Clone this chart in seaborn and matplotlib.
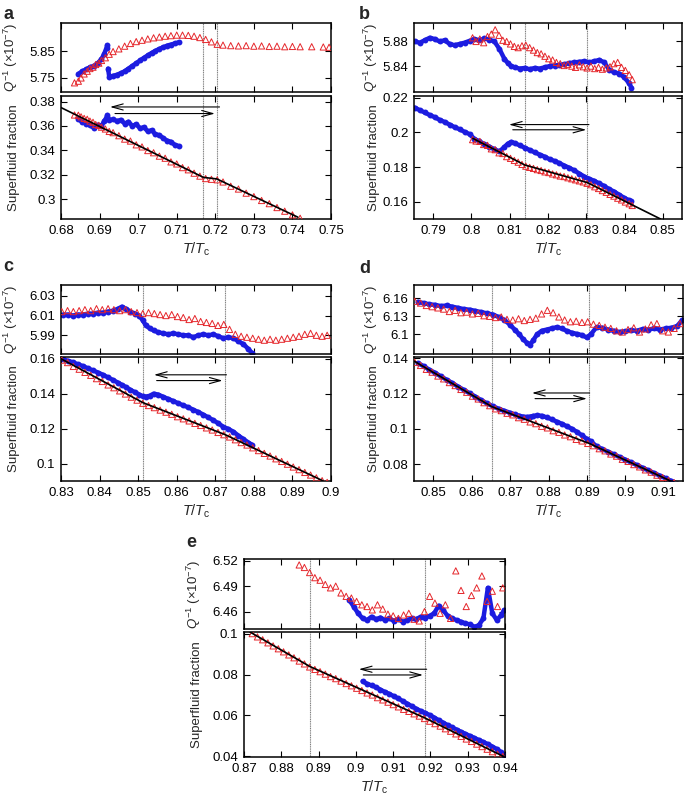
import numpy as np
import matplotlib
matplotlib.use("Agg")
import matplotlib.pyplot as plt
from matplotlib.ticker import FuncFormatter
import seaborn as sns

nan = np.nan

# ---------------- panel a ----------------
a_red_t = [0.6835, 0.6845, 0.6852, 0.686, 0.6868, 0.6875, 0.6883, 0.689, 0.6898, 0.6905,
           0.6915, 0.6925, 0.6935, 0.695, 0.6965, 0.698, 0.6995, 0.701, 0.7025, 0.704,
           0.7055, 0.707, 0.7085, 0.71, 0.7115, 0.713, 0.7145, 0.716, 0.7175, 0.719,
           0.7205, 0.722, 0.724, 0.726, 0.728, 0.730, 0.732, 0.734, 0.736, 0.738,
           0.740, 0.742, 0.745, 0.748, 0.7495]
a_red_q = [5.732, 5.738, 5.75, 5.765, 5.775, 5.785, 5.79, 5.80, 5.805, 5.815,
           5.825, 5.838, 5.848, 5.858, 5.868, 5.878, 5.885, 5.89, 5.895, 5.899,
           5.902, 5.905, 5.907, 5.909, 5.909, 5.908, 5.905, 5.900, 5.893, 5.884,
           5.875, 5.872, 5.870, 5.869, 5.870, 5.868, 5.869, 5.867, 5.868, 5.866,
           5.867, 5.866, 5.866, 5.865, 5.864]
a_red_sf = [0.3690, 0.3688, 0.3675, 0.3662, 0.3655, 0.3640, 0.3630, 0.3612, 0.3605, 0.3590,
            0.3575, 0.3555, 0.3545, 0.3520, 0.3492, 0.3476, 0.3445, 0.3428, 0.3398, 0.3380,
            0.3352, 0.3335, 0.3305, 0.3288, 0.3258, 0.3240, 0.3212, 0.3188, 0.3168, 0.3162,
            0.3158, 0.3140, 0.3105, 0.3082, 0.3048, 0.3020, 0.2988, 0.2962, 0.2930, 0.2900,
            0.2870, 0.2842, 0.2797, 0.2752, 0.2729]
a_blue_t = [0.6845, 0.6855, 0.6865, 0.6875, 0.6885, 0.6895, 0.6905, 0.6912, 0.6918, 0.692,
            nan, 0.6922, 0.6925, 0.6935, 0.6945, 0.6955, 0.6965, 0.6975, 0.6985, 0.6995,
            0.7005, 0.7015, 0.7025, 0.7035, 0.7045, 0.7055, 0.7065, 0.7075, 0.7085, 0.7095, 0.7105]
a_blue_q = [5.765, 5.775, 5.782, 5.79, 5.795, 5.805, 5.82, 5.84, 5.862, 5.872,
            nan, 5.785, 5.755, 5.758, 5.762, 5.768, 5.775, 5.785, 5.795, 5.805,
            5.815, 5.825, 5.834, 5.843, 5.851, 5.858, 5.864, 5.87, 5.874, 5.878, 5.882]
a_blue_sf = [0.3660, 0.3630, 0.3620, 0.3605, 0.3585, 0.3610, 0.3600, 0.3640, 0.3670, 0.3690,
             nan, 0.3660, 0.3645, 0.3655, 0.3640, 0.3650, 0.3620, 0.3635, 0.3600, 0.3615,
             0.3580, 0.3590, 0.3555, 0.3565, 0.3530, 0.3525, 0.3500, 0.3480, 0.3470, 0.3445, 0.3435]
a_fit_t = [0.68, 0.7169, 0.7204, 0.7414]
a_fit_sf = [0.3751, 0.3178, 0.3165, 0.2851]

# ---------------- panel b ----------------
b_red_t = [0.8003, 0.8012, 0.8022, 0.8032, 0.8042, 0.8052, 0.8062, 0.8072, 0.8082, 0.8092,
           0.8102, 0.8112, 0.8122, 0.8132, 0.8142, 0.8152, 0.8162, 0.8172, 0.8182, 0.8192,
           0.8202, 0.8212, 0.8222, 0.8232, 0.8242, 0.8252, 0.8262, 0.8272, 0.8282, 0.8292,
           0.8302, 0.8312, 0.8322, 0.8332, 0.8342, 0.8352, 0.8362, 0.8372, 0.8382, 0.8392,
           0.8402, 0.8412, 0.8420]
b_red_q = [5.886, 5.880, 5.884, 5.878, 5.888, 5.892, 5.899, 5.890, 5.882, 5.880,
           5.876, 5.872, 5.870, 5.873, 5.874, 5.870, 5.866, 5.862, 5.860, 5.856,
           5.852, 5.850, 5.846, 5.844, 5.841, 5.843, 5.840, 5.838, 5.842, 5.839,
           5.837, 5.840, 5.836, 5.838, 5.835, 5.837, 5.839, 5.844, 5.846, 5.838,
           5.833, 5.826, 5.818]
b_red_sf = [0.1958, 0.1950, 0.1948, 0.1930, 0.1925, 0.1905, 0.1900, 0.1882, 0.1878, 0.1860,
            0.1850, 0.1838, 0.1828, 0.1815, 0.1805, 0.1798, 0.1792, 0.1785, 0.1780, 0.1772,
            0.1768, 0.1760, 0.1755, 0.1748, 0.1745, 0.1738, 0.1732, 0.1726, 0.1720, 0.1714,
            0.1706, 0.1698, 0.1686, 0.1676, 0.1664, 0.1654, 0.1642, 0.1632, 0.1620, 0.1610,
            0.1598, 0.1588, 0.1578]
b_blue_t = [0.7852, 0.7865, 0.7878, 0.7891, 0.7904, 0.7917, 0.7930, 0.7943, 0.7956, 0.7969,
            0.7982, 0.7995, 0.8008, 0.8021, 0.8034, 0.8047, 0.8060, 0.8073, 0.8086, 0.8095,
            0.8104, 0.8113, 0.8126, 0.8139, 0.8152, 0.8165, 0.8178, 0.8191, 0.8204, 0.8217,
            0.8230, 0.8243, 0.8256, 0.8269, 0.8282, 0.8295, 0.8308, 0.8321, 0.8334, 0.8347,
            0.8360, 0.8373, 0.8386, 0.8399, 0.8412, 0.8418]
b_blue_q = [5.880, 5.878, 5.882, 5.886, 5.884, 5.880, 5.882, 5.876, 5.874, 5.876,
            5.878, 5.881, 5.884, 5.882, 5.885, 5.883, 5.880, 5.868, 5.852, 5.845,
            5.840, 5.838, 5.836, 5.837, 5.835, 5.837, 5.836, 5.838, 5.840, 5.841,
            5.842, 5.843, 5.845, 5.846, 5.847, 5.848, 5.846, 5.848, 5.850, 5.846,
            5.834, 5.830, 5.828, 5.822, 5.812, 5.805]
b_blue_sf = [0.2143, 0.2128, 0.2115, 0.2100, 0.2088, 0.2072, 0.2060, 0.2045, 0.2030, 0.2018,
             0.2003, 0.1990, 0.1962, 0.1948, 0.1932, 0.1918, 0.1902, 0.1890, 0.1915, 0.1935,
             0.1945, 0.1938, 0.1925, 0.1912, 0.1898, 0.1885, 0.1872, 0.1860, 0.1845, 0.1835,
             0.1822, 0.1808, 0.1795, 0.1780, 0.1762, 0.1745, 0.1732, 0.1720, 0.1705, 0.1690,
             0.1672, 0.1658, 0.1640, 0.1622, 0.1608, 0.1602]
b_fit_t = [0.8004, 0.8139, 0.8303, 0.8494]
b_fit_sf = [0.1965, 0.1812, 0.1710, 0.1500]

# ---------------- panel c ----------------
c_red_t = [0.8302, 0.8317, 0.8332, 0.8347, 0.8362, 0.8377, 0.8392, 0.8407, 0.8422, 0.8437,
           0.8452, 0.8467, 0.8482, 0.8497, 0.8512, 0.8527, 0.8542, 0.8557, 0.8572, 0.8587,
           0.8602, 0.8617, 0.8632, 0.8647, 0.8662, 0.8677, 0.8692, 0.8707, 0.8722, 0.8737,
           0.8752, 0.8767, 0.8782, 0.8797, 0.8812, 0.8827, 0.8842, 0.8857, 0.8872, 0.8887,
           0.8902, 0.8917, 0.8932, 0.8947, 0.8962, 0.8977, 0.8990]
c_red_q = [6.014, 6.015, 6.014, 6.015, 6.016, 6.015, 6.017, 6.016, 6.017, 6.016,
           6.015, 6.016, 6.014, 6.013, 6.012, 6.013, 6.012, 6.011, 6.010, 6.011,
           6.009, 6.008, 6.006, 6.007, 6.004, 6.003, 6.002, 6.000, 6.001, 5.996,
           5.991, 5.989, 5.988, 5.987, 5.986, 5.985, 5.986, 5.985, 5.986, 5.987,
           5.988, 5.989, 5.991, 5.992, 5.990, 5.989, 5.990]
c_red_sf = [0.1592, 0.1578, 0.1556, 0.1540, 0.1522, 0.1505, 0.1486, 0.1470, 0.1450, 0.1434,
            0.1416, 0.1398, 0.1380, 0.1363, 0.1345, 0.1332, 0.1320, 0.1306, 0.1294, 0.1282,
            0.1268, 0.1256, 0.1244, 0.1230, 0.1218, 0.1204, 0.1192, 0.1178, 0.1165, 0.1152,
            0.1136, 0.1120, 0.1106, 0.1090, 0.1074, 0.1058, 0.1043, 0.1027, 0.1012, 0.0996,
            0.0980, 0.0965, 0.0949, 0.0934, 0.0918, 0.0902, 0.0892]
c_blue_t = [0.8305, 0.8318, 0.8331, 0.8344, 0.8357, 0.8370, 0.8383, 0.8396, 0.8409, 0.8422,
            0.8435, 0.8448, 0.8458, 0.8468, 0.8480, 0.8492, 0.8503, 0.8512, 0.8520, 0.8530,
            0.8540, 0.8552, 0.8565, 0.8578, 0.8591, 0.8604, 0.8617, 0.8630, 0.8643, 0.8656,
            0.8669, 0.8682, 0.8695, 0.8708, 0.8721, 0.8734, 0.8747, 0.8760, 0.8773, 0.8786, 0.8795]
c_blue_q = [6.011, 6.011, 6.010, 6.011, 6.011, 6.012, 6.012, 6.013, 6.013, 6.014,
            6.015, 6.017, 6.019, 6.017, 6.014, 6.012, 6.010, 6.005, 6.000, 5.997,
            5.995, 5.993, 5.992, 5.991, 5.992, 5.991, 5.990, 5.990, 5.988, 5.990,
            5.991, 5.990, 5.991, 5.989, 5.987, 5.988, 5.987, 5.984, 5.981, 5.976, 5.972]
c_blue_sf = [0.1597, 0.1588, 0.1580, 0.1568, 0.1558, 0.1545, 0.1533, 0.1521, 0.1508, 0.1493,
             0.1478, 0.1463, 0.1450, 0.1438, 0.1422, 0.1408, 0.1395, 0.1385, 0.1383, 0.1388,
             0.1400, 0.1395, 0.1382, 0.1370, 0.1358, 0.1345, 0.1333, 0.1322, 0.1308, 0.1295,
             0.1280, 0.1264, 0.1248, 0.1230, 0.1210, 0.1198, 0.1182, 0.1160, 0.1140, 0.1120, 0.1108]
c_fit_t = [0.83, 0.8513, 0.8726, 0.898]
c_fit_sf = [0.160, 0.1348, 0.1165, 0.090]

# ---------------- panel d ----------------
d_red_t = [0.8452, 0.8467, 0.8482, 0.8497, 0.8512, 0.8527, 0.8542, 0.8557, 0.8572, 0.8587,
           0.8602, 0.8617, 0.8632, 0.8647, 0.8662, 0.8677, 0.8692, 0.8707, 0.8722, 0.8737,
           0.8752, 0.8767, 0.8782, 0.8797, 0.8812, 0.8827, 0.8842, 0.8857, 0.8872, 0.8887,
           0.8902, 0.8917, 0.8932, 0.8947, 0.8962, 0.8977, 0.8992, 0.9007, 0.9022, 0.9037,
           0.9052, 0.9067, 0.9082, 0.9097, 0.9112, 0.9127, 0.9142]
d_red_q = [6.155, 6.152, 6.148, 6.146, 6.144, 6.142, 6.138, 6.140, 6.136, 6.137,
           6.134, 6.135, 6.131, 6.130, 6.128, 6.129, 6.125, 6.124, 6.126, 6.123,
           6.125, 6.127, 6.134, 6.140, 6.136, 6.129, 6.124, 6.121, 6.122, 6.120,
           6.121, 6.117, 6.115, 6.112, 6.110, 6.106, 6.104, 6.108, 6.111, 6.104,
           6.109, 6.116, 6.118, 6.106, 6.104, 6.110, 6.118]
d_red_sf = [0.1378, 0.1360, 0.1338, 0.1322, 0.1300, 0.1284, 0.1263, 0.1246, 0.1224, 0.1208,
            0.1186, 0.1170, 0.1149, 0.1132, 0.1114, 0.1104, 0.1089, 0.1080, 0.1064, 0.1055,
            0.1040, 0.1030, 0.1015, 0.1006, 0.0990, 0.0981, 0.0966, 0.0956, 0.0941, 0.0932,
            0.0918, 0.0905, 0.0888, 0.0876, 0.0858, 0.0846, 0.0828, 0.0816, 0.0798, 0.0785,
            0.0768, 0.0755, 0.0738, 0.0725, 0.0708, 0.0696, 0.0680]
d_blue_t = [0.8460, 0.8475, 0.8490, 0.8505, 0.8520, 0.8535, 0.8550, 0.8565, 0.8580, 0.8595,
            0.8610, 0.8625, 0.8640, 0.8655, 0.8670, 0.8685, 0.8700, 0.8712, 0.8724, 0.8734,
            0.8744, 0.8752, 0.8760, 0.8770, 0.8782, 0.8795, 0.8808, 0.8821, 0.8834, 0.8847,
            0.8860, 0.8873, 0.8886, 0.8899, 0.8910, 0.8925, 0.8940, 0.8955, 0.8970, 0.8985,
            0.9000, 0.9015, 0.9030, 0.9045, 0.9060, 0.9075, 0.9090, 0.9105, 0.9120, 0.9135, 0.9148]
d_blue_q = [6.154, 6.152, 6.150, 6.149, 6.147, 6.148, 6.146, 6.144, 6.142, 6.141,
            6.139, 6.137, 6.135, 6.133, 6.129, 6.124, 6.116, 6.108, 6.100, 6.092,
            6.086, 6.083, 6.090, 6.100, 6.106, 6.108, 6.110, 6.112, 6.110, 6.106,
            6.103, 6.101, 6.099, 6.095, 6.100, 6.112, 6.111, 6.108, 6.106, 6.104,
            6.105, 6.107, 6.106, 6.109, 6.108, 6.110, 6.108, 6.110, 6.111, 6.114, 6.124]
d_blue_sf = [0.1374, 0.1356, 0.1336, 0.1318, 0.1298, 0.1279, 0.1260, 0.1240, 0.1221, 0.1202,
             0.1183, 0.1163, 0.1145, 0.1129, 0.1115, 0.1103, 0.1092, 0.1083, 0.1075, 0.1070,
             0.1068, 0.1070, 0.1074, 0.1077, 0.1075, 0.1066, 0.1055, 0.1042, 0.1030, 0.1016,
             0.1002, 0.0985, 0.0965, 0.0945, 0.0930, 0.0902, 0.0886, 0.0871, 0.0856, 0.0841,
             0.0826, 0.0810, 0.0795, 0.0780, 0.0765, 0.0750, 0.0735, 0.0720, 0.0705, 0.0690, 0.0677]
d_fit_t = [0.845, 0.8653, 0.8906, 0.9118]
d_fit_sf = [0.1385, 0.1126, 0.0918, 0.0705]

# ---------------- panel e ----------------
e_red_t = [0.8722, 0.8736, 0.8750, 0.8764, 0.8778, 0.8792, 0.8806, 0.8820, 0.8834, 0.8848,
           0.8862, 0.8876, 0.8890, 0.8904, 0.8918, 0.8932, 0.8946, 0.8960, 0.8974, 0.8988,
           0.9002, 0.9016, 0.9030, 0.9044, 0.9058, 0.9072, 0.9086, 0.9100, 0.9114, 0.9128,
           0.9142, 0.9156, 0.9170, 0.9184, 0.9198, 0.9212, 0.9226, 0.9240, 0.9254, 0.9268,
           0.9282, 0.9296, 0.9310, 0.9324, 0.9338, 0.9352, 0.9366, 0.9380, 0.9394]
e_red_q = [nan, nan, nan, nan, nan, nan, nan, nan, nan, 6.515,
           6.512, 6.506, 6.500, 6.497, 6.492, 6.488, 6.490, 6.482, 6.478, 6.476,
           6.472, 6.468, 6.466, 6.462, 6.468, 6.463, 6.457, 6.455, 6.452, 6.456,
           6.458, 6.451, 6.449, 6.460, 6.478, 6.470, 6.458, 6.468, 6.452, 6.508,
           6.485, 6.466, 6.479, 6.488, 6.502, 6.472, 6.484, 6.466, 6.488]
e_red_sf = [0.1000, 0.0984, 0.0970, 0.0955, 0.0940, 0.0926, 0.0911, 0.0896, 0.0882, 0.0866,
            0.0852, 0.0837, 0.0825, 0.0814, 0.0802, 0.0790, 0.0780, 0.0768, 0.0756, 0.0745,
            0.0733, 0.0722, 0.0710, 0.0700, 0.0687, 0.0676, 0.0665, 0.0653, 0.0642, 0.0630,
            0.0620, 0.0608, 0.0597, 0.0585, 0.0572, 0.0560, 0.0548, 0.0535, 0.0523, 0.0510,
            0.0498, 0.0485, 0.0473, 0.0460, 0.0448, 0.0435, 0.0423, 0.0411, 0.0400]
e_blue_t = [0.8982, 0.8994, 0.9006, 0.9018, 0.9030, 0.9042, 0.9054, 0.9066, 0.9078, 0.9090,
            0.9102, 0.9114, 0.9126, 0.9138, 0.9150, 0.9162, 0.9174, 0.9186, 0.9198, 0.9210,
            0.9222, 0.9234, 0.9246, 0.9258, 0.9270, 0.9282, 0.9294, 0.9306, 0.9318, 0.9330,
            0.9342, 0.9354, 0.9366, 0.9378, 0.9390, 0.9398]
e_blue_q = [6.474, 6.466, 6.458, 6.452, 6.450, 6.454, 6.451, 6.453, 6.450, 6.452,
            6.449, 6.451, 6.448, 6.450, 6.452, 6.451, 6.454, 6.453, 6.455, 6.458,
            6.467, 6.462, 6.455, 6.452, 6.450, 6.448, 6.446, 6.445, 6.442, 6.444,
            6.452, 6.488, 6.458, 6.450, 6.456, 6.462]
e_blue_sf = [nan, nan, nan, 0.0767, 0.0755, 0.0747, 0.0738, 0.0726, 0.0715, 0.0705,
             0.0694, 0.0683, 0.0670, 0.0658, 0.0645, 0.0633, 0.0622, 0.0612, 0.0602, 0.0590,
             0.0577, 0.0565, 0.0553, 0.0542, 0.0531, 0.0520, 0.0510, 0.0500, 0.0490, 0.0480,
             0.0470, 0.0460, 0.0448, 0.0436, 0.0420, 0.0405]
e_fit_t = [0.8716, 0.8877, 0.9185, 0.9399]
e_fit_sf = [0.1008, 0.0839, 0.0588, 0.0397]

# transition markers (dotted lines) and hysteresis arrows: (y, tail, head)
a_vlines = [0.7169, 0.7204]
b_vlines = [0.8139, 0.8303]
c_vlines = [0.8513, 0.8726]
d_vlines = [0.8653, 0.8906]
e_vlines = [0.8877, 0.9185]
a_arrows = [(0.3756, 0.7211, 0.6927), (0.3702, 0.6940, 0.7199)]
b_arrows = [(0.2045, 0.8307, 0.8098), (0.2015, 0.8108, 0.8300)]
c_arrows = [(0.1508, 0.8729, 0.8541), (0.1475, 0.8548, 0.8719)]
d_arrows = [(0.1204, 0.8907, 0.8757), (0.1172, 0.8765, 0.8900)]
e_arrows = [(0.0826, 0.9190, 0.9008), (0.0798, 0.9020, 0.9180)]

# ---------------- style ----------------
sns.set_style("ticks")
plt.rcParams["font.family"] = ["Liberation Sans", "DejaVu Sans"]
plt.rcParams["mathtext.fontset"] = "custom"
plt.rcParams["mathtext.rm"] = "Liberation Sans"
plt.rcParams["mathtext.it"] = "Liberation Sans:italic"
plt.rcParams["font.size"] = 9.5

RED = "#e5262b"
BLUE = "#1c1ce0"
W, H = 685, 797
fig = plt.figure(figsize=(W / 100, H / 100), dpi=100)
fmt = FuncFormatter(lambda v, p: f"{round(v, 4):g}")


def box(l, r, t, b):
    return [l / W, 1 - b / H, (r - l) / W, (b - t) / H]


def panel(letter, lpos, xpx, ytop, ybot, lab_off, xlim, qlim, sflim, xticks, qticks, sfticks,
          red_t, red_q, red_sf, blue_t, blue_q, blue_sf, fit_t, fit_sf, vlines, arrows):
    axq = fig.add_axes(box(xpx[0], xpx[1], ytop[0], ytop[1]))
    axs = fig.add_axes(box(xpx[0], xpx[1], ybot[0], ybot[1]))
    for ax, by, ry, ylim, yt in ((axq, blue_q, red_q, qlim, qticks),
                                 (axs, blue_sf, red_sf, sflim, sfticks)):
        for v in vlines:
            ax.axvline(v, color="0.5", lw=0.8, ls=(0, (1, 0.6)), zorder=0)
        ax.plot(blue_t, by, color=BLUE, lw=3.2, zorder=1)
        sns.scatterplot(x=blue_t, y=by, ax=ax, color=BLUE, s=18, linewidth=0, zorder=2)
        sns.scatterplot(x=red_t, y=ry, ax=ax, marker="^", s=20, facecolor="none",
                        edgecolor=RED, linewidth=0.7, zorder=3)
        ax.set_xlim(xlim)
        ax.set_ylim(ylim)
        ax.set_xticks(xticks)
        ax.set_yticks(yt)
        ax.xaxis.set_major_formatter(fmt)
        ax.yaxis.set_major_formatter(fmt)
        ax.tick_params(direction="in", top=True, right=True, length=4, width=0.8,
                       labelsize=9.5, pad=4, colors="black")
        for sp in ax.spines.values():
            sp.set_linewidth(1.1)
            sp.set_color("black")
        ax.yaxis.set_label_coords(-lab_off / (xpx[1] - xpx[0]), 0.5)
    axq.tick_params(labelbottom=False)
    sns.lineplot(x=fit_t, y=fit_sf, ax=axs, color="black", lw=1.2, zorder=4)
    for y, tail, head in arrows:
        axs.annotate("", xy=(head, y), xytext=(tail, y),
                     arrowprops=dict(arrowstyle="->,head_length=0.8,head_width=0.22",
                                     color="black", lw=0.8, shrinkA=0, shrinkB=0,
                                     mutation_scale=10))
    axq.set_xlabel("")
    axq.set_ylabel(r"$Q^{-1}$ (×10$^{-7}$)", fontsize=9.5)
    axs.set_ylabel("Superfluid fraction", fontsize=9.5)
    axs.set_xlabel(r"$T/T_{\mathrm{c}}$", fontsize=10.5, labelpad=3)
    fig.text(lpos[0] / W, 1 - lpos[1] / H, letter, fontsize=13, fontweight="bold",
             ha="left", va="baseline")


panel("a", (3, 19), (61, 331), (23, 92), (96, 219), 41, (0.68, 0.75), (5.698, 5.954), (0.2836, 0.3846),
      [0.68, 0.69, 0.70, 0.71, 0.72, 0.73, 0.74, 0.75], [5.75, 5.85], [0.30, 0.32, 0.34, 0.36, 0.38],
      a_red_t, a_red_q, a_red_sf, a_blue_t, a_blue_q, a_blue_sf, a_fit_t, a_fit_sf, a_vlines, a_arrows)
panel("b", (359, 19), (414, 682), (23, 92), (96, 219), 34, (0.785, 0.855), (5.798, 5.910), (0.150, 0.221),
      [0.79, 0.80, 0.81, 0.82, 0.83, 0.84, 0.85], [5.84, 5.88], [0.16, 0.18, 0.20, 0.22],
      b_red_t, b_red_q, b_red_sf, b_blue_t, b_blue_q, b_blue_sf, b_fit_t, b_fit_sf, b_vlines, b_arrows)
panel("c", (3, 271), (61, 331), (285, 354), (357, 481), 41, (0.83, 0.90), (5.971, 6.041), (0.090, 0.161),
      [0.83, 0.84, 0.85, 0.86, 0.87, 0.88, 0.89, 0.90], [5.99, 6.01, 6.03], [0.10, 0.12, 0.14, 0.16],
      c_red_t, c_red_q, c_red_sf, c_blue_t, c_blue_q, c_blue_sf, c_fit_t, c_fit_sf, c_vlines, c_arrows)
panel("d", (359, 273), (414, 683), (285, 354), (357, 481), 34, (0.845, 0.915), (6.0675, 6.182), (0.0705, 0.1408),
      [0.85, 0.86, 0.87, 0.88, 0.89, 0.90, 0.91], [6.10, 6.13, 6.16], [0.08, 0.10, 0.12, 0.14],
      d_red_t, d_red_q, d_red_sf, d_blue_t, d_blue_q, d_blue_sf, d_fit_t, d_fit_sf, d_vlines, d_arrows)
panel("e", (186, 547), (244, 505), (559, 629), (632, 757), 41, (0.87, 0.94), (6.4395, 6.522), (0.0397, 0.1008),
      [0.87, 0.88, 0.89, 0.90, 0.91, 0.92, 0.93, 0.94], [6.46, 6.49, 6.52], [0.04, 0.06, 0.08, 0.10],
      e_red_t, e_red_q, e_red_sf, e_blue_t, e_blue_q, e_blue_sf, e_fit_t, e_fit_sf, e_vlines, e_arrows)

fig.savefig("out.png", dpi=100)
